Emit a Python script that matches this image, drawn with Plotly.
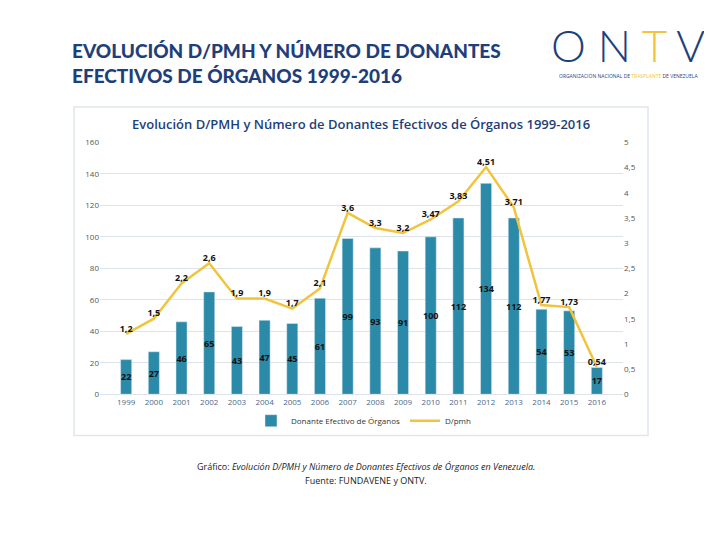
import plotly.graph_objects as go

years = [str(y) for y in range(1999, 2017)]
donantes = [22, 27, 46, 65, 43, 47, 45, 61, 99, 93, 91, 100, 112, 134, 112, 54, 53, 17]
dpmh = [1.2, 1.5, 2.2, 2.6, 1.9, 1.9, 1.7, 2.1, 3.6, 3.3, 3.2, 3.47, 3.83, 4.51, 3.71, 1.77, 1.73, 0.54]
dpmh_labels = ["1,2", "1,5", "2,2", "2,6", "1,9", "1,9", "1,7", "2,1", "3,6", "3,3", "3,2",
               "3,47", "3,83", "4,51", "3,71", "1,77", "1,73", "0,54"]

W, H = 712, 551
def px_x(x): return x / W
def px_y(y): return 1 - y / H

fig = go.Figure()
fig.add_bar(x=years, y=donantes, name="Donante Efectivo de Órganos",
            marker=dict(color="#2b8aa8"), width=0.4,
            text=donantes, textposition="inside", insidetextanchor="middle",
            constraintext="none", textangle=0, cliponaxis=False,
            textfont=dict(family="Open Sans", size=9, color="#111", weight="bold"))
fig.add_scatter(x=years, y=dpmh, name="D/pmh", yaxis="y2", mode="lines+text",
                line=dict(color="#f2c43d", width=2.5),
                text=dpmh_labels, textposition="top center", cliponaxis=False,
                textfont=dict(family="Open Sans", size=9, color="#111", weight="bold"))

grid = "#dde3ea"
fig.update_layout(
    width=W, height=H, margin=dict(l=0, r=0, t=0, b=0),
    paper_bgcolor="white", plot_bgcolor="white",
    font=dict(family="Open Sans", color="#555"),
    xaxis=dict(domain=[px_x(92), px_x(615)], tickfont=dict(size=8, color="#4a6a8a"),
               showline=True, linecolor=grid, anchor="y"),
    yaxis=dict(domain=[px_y(388), px_y(131)], range=[0, 160], dtick=20,
               gridcolor=grid, tickfont=dict(size=8, color="#555"), zeroline=False),
    yaxis2=dict(overlaying="y", side="right", range=[0, 5], dtick=0.5,
                showgrid=False, tickfont=dict(size=8, color="#555"),
                tickformat=".1~f"),
    separators=",.",
    showlegend=True, bargap=0.5, uniformtext=dict(mode=False),
    legend=dict(orientation="h", x=0.5, xanchor="center", y=px_y(415), yanchor="middle",
                bgcolor="rgba(0,0,0,0)",
                font=dict(size=8, color="#333")),
    shapes=[dict(type="rect", xref="paper", yref="paper",
                 x0=px_x(66), x1=px_x(640), y0=px_y(430), y1=px_y(95),
                 line=dict(color="#dfe6ee", width=1.5))],
    annotations=[
        dict(text="EVOLUCIÓN D/PMH Y NÚMERO DE DONANTES<br>EFECTIVOS DE ÓRGANOS 1999-2016",
             xref="paper", yref="paper", x=px_x(62), y=px_y(50), xanchor="left", yanchor="middle",
             align="left", showarrow=False,
             font=dict(family="Lato", size=19, color="#1f3f7a", weight=900)),
        dict(text="O N <span style='color:#f2c43d'>T</span> V", xref="paper", yref="paper",
             x=px_x(620), y=px_y(32), xanchor="center", yanchor="middle", showarrow=False,
             font=dict(family="Lato", size=44, color="#1f3f7a", weight=300)),
        dict(text="ORGANIZACIÓN NACIONAL DE <span style='color:#f2c43d'>TRASPLANTE</span> DE VENEZUELA",
             xref="paper", yref="paper", x=px_x(620), y=px_y(63), xanchor="center", yanchor="middle",
             showarrow=False, font=dict(family="Open Sans", size=5, color="#1f3f7a")),
        dict(text="Evolución D/PMH y Número de Donantes Efectivos de Órganos 1999-2016",
             xref="paper", yref="paper", x=px_x(353), y=px_y(112), xanchor="center", yanchor="middle",
             showarrow=False, font=dict(family="Open Sans", size=13, color="#1f3f7a", weight=600)),
        dict(text="Gráfico: <i>Evolución D/PMH y Número de Donantes Efectivos de Órganos en Venezuela.</i>",
             xref="paper", yref="paper", x=px_x(358), y=px_y(462), xanchor="center", yanchor="middle",
             showarrow=False, font=dict(family="Open Sans", size=9, color="#222")),
        dict(text="Fuente: FUNDAVENE y ONTV.", xref="paper", yref="paper",
             x=px_x(358), y=px_y(476), xanchor="center", yanchor="middle",
             showarrow=False, font=dict(family="Open Sans", size=9, color="#222")),
    ],
)
fig.write_html("out.html")
